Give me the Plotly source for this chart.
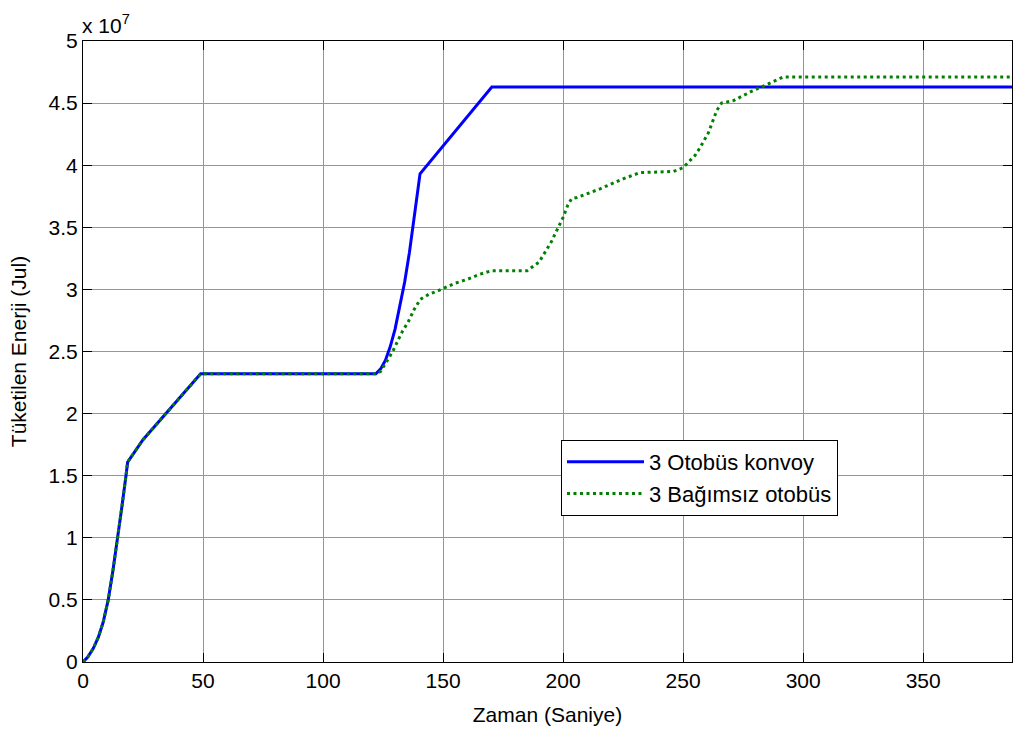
import plotly.graph_objects as go

# Zaman (s) and consumed energy (x 10^7 J)
t_konvoy = [0, 2, 4.3, 6.4, 8.4, 10.5, 12.5, 14.5, 16.2, 17.9, 18.6, 25, 30, 35, 40, 45, 49,
            122, 124, 126, 128, 130, 132, 134, 136, 138, 140.4, 170.3, 387]
e_konvoy = [0, 0.04, 0.11, 0.2, 0.32, 0.5, 0.74, 1.0, 1.25, 1.5, 1.61, 1.79, 1.9, 2.01, 2.12,
            2.23, 2.32, 2.32, 2.36, 2.43, 2.54, 2.68, 2.86, 3.06, 3.3, 3.57, 3.93, 4.63, 4.63]

t_bagimsiz = [0, 2, 4.3, 6.4, 8.4, 10.5, 12.5, 14.5, 16.2, 17.9, 18.6, 25, 30, 35, 40, 45, 49,
              122, 124, 126.5, 129, 131, 133, 135.5, 138, 140.5, 144, 148, 155, 160, 165, 170,
              185, 190, 195, 200, 202, 203.5, 205.8, 215.4, 225, 232, 246, 250, 255, 257,
              260.5, 264, 266, 271, 278, 285, 287.5, 291.7, 387]
e_bagimsiz = [0, 0.04, 0.11, 0.2, 0.32, 0.5, 0.74, 1.0, 1.25, 1.5, 1.61, 1.79, 1.9, 2.01, 2.12,
              2.23, 2.32, 2.32, 2.34, 2.42, 2.5, 2.58, 2.66, 2.74, 2.84, 2.92, 2.96, 2.99, 3.05,
              3.08, 3.12, 3.15, 3.15, 3.22, 3.38, 3.58, 3.68, 3.73, 3.74, 3.81, 3.89, 3.94,
              3.95, 3.98, 4.08, 4.14, 4.26, 4.44, 4.5, 4.52, 4.59, 4.65, 4.67, 4.71, 4.71]

x_ticks = [0, 50, 100, 150, 200, 250, 300, 350]
y_ticks = [0, 0.5, 1, 1.5, 2, 2.5, 3, 3.5, 4, 4.5, 5]
y_tick_text = ["0", "0.5", "1", "1.5", "2", "2.5", "3", "3.5", "4", "4.5", "5"]

FONT = "Liberation Sans, Arial, Helvetica, sans-serif"
GRID = "rgb(150,150,150)"

fig = go.Figure()
fig.add_trace(go.Scatter(
    x=t_konvoy, y=e_konvoy, mode="lines", name="3 Otobüs konvoy",
    line=dict(color="rgb(0,0,255)", width=3),
))
fig.add_trace(go.Scatter(
    x=t_bagimsiz, y=e_bagimsiz, mode="lines", name="3 Bağımsız otobüs",
    line=dict(color="rgb(0,128,0)", width=3, dash="3px,3.5px"),
))

axis_common = dict(
    ticks="inside", ticklen=9, tickwidth=1, tickcolor="black",
    showline=True, linecolor="black", linewidth=1, mirror="ticks",
    showgrid=True, gridcolor=GRID, gridwidth=1, zeroline=False,
    tickfont=dict(family=FONT, size=21, color="black"),
)

fig.update_xaxes(
    range=[0, 387], tickmode="array", tickvals=x_ticks,
    title=dict(text="Zaman (Saniye)", font=dict(family=FONT, size=21, color="black"), standoff=16),
    **axis_common,
)
fig.update_yaxes(
    range=[0, 5], tickmode="array", tickvals=y_ticks, ticktext=y_tick_text,
    title=dict(text="Tüketilen Enerji (Jul)", font=dict(family=FONT, size=21, color="black"), standoff=16),
    **axis_common,
)

fig.add_annotation(
    xref="paper", yref="paper", x=0, y=1, xanchor="left", yanchor="bottom",
    text="x 10<sup>7</sup>", showarrow=False, yshift=2, xshift=-3,
    font=dict(family=FONT, size=21, color="black"),
)

fig.update_layout(
    width=1013, height=729,
    margin=dict(l=83, r=1, t=41, b=67),
    paper_bgcolor="white", plot_bgcolor="white",
    showlegend=True,
    legend=dict(
        x=0.5145, y=0.3575, xanchor="left", yanchor="top",
        bgcolor="white", bordercolor="black", borderwidth=1,
        font=dict(family=FONT, size=22, color="black"),
        itemwidth=77, tracegroupgap=0,
    ),
)

fig.write_html("out.html")
